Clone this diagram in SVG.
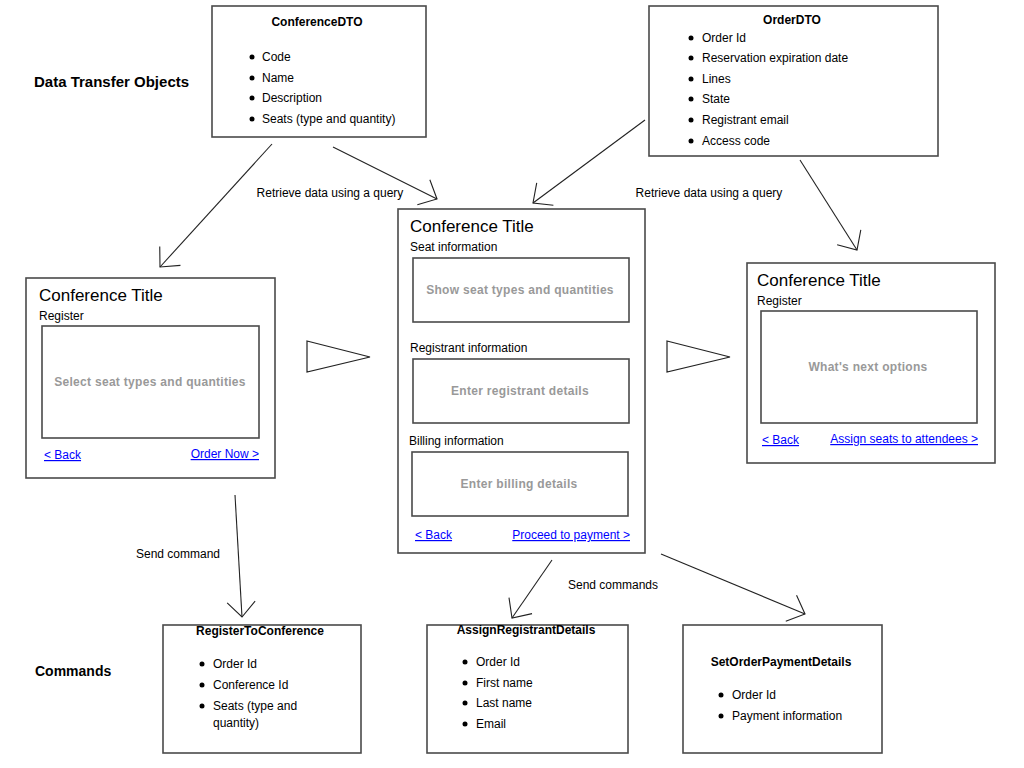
<svg xmlns="http://www.w3.org/2000/svg" width="1024" height="768" viewBox="0 0 1024 768">
<defs>
<style>
.box{fill:#fff;stroke:#4a4a4a;stroke-width:1.6}
.ibox{fill:#fff;stroke:#4a4a4a;stroke-width:1.6}
.t{font-family:"Liberation Sans",Arial,sans-serif;font-size:12px;fill:#000}
.tb{font-family:"Liberation Sans",Arial,sans-serif;font-size:12px;font-weight:bold;fill:#000}
.h{font-family:"Liberation Sans",Arial,sans-serif;font-size:14px;font-weight:bold;fill:#000}
.ct{font-family:"Liberation Sans",Arial,sans-serif;font-size:17px;fill:#000}
.g{font-family:"Liberation Sans",Arial,sans-serif;font-size:12px;font-weight:bold;fill:#999;letter-spacing:0.3px}
.lk{font-family:"Liberation Sans",Arial,sans-serif;font-size:12px;fill:#0000ff;text-decoration:underline}
.bul{fill:#000}
.conn{stroke:#222;stroke-width:1.1;fill:none}
.tri{fill:#fff;stroke:#222;stroke-width:1.2}
</style>
<marker id="ah" markerUnits="userSpaceOnUse" markerWidth="40" markerHeight="40" refX="0" refY="0" viewBox="-20 -20 40 40" orient="auto">
<path d="M-15,-14 L0,0 L-15,14" fill="none" stroke="#222" stroke-width="1.1"/>
</marker>
</defs>
<rect width="1024" height="768" fill="#fff"/>

<text class="h" x="34" y="87" style="font-size:15px">Data Transfer Objects</text>
<text class="h" x="35" y="676">Commands</text>

<g id="conferenceDTO">
<rect class="box" x="212" y="6" width="214" height="131"/>
<text class="tb" x="317" y="26" text-anchor="middle">ConferenceDTO</text>
<circle class="bul" cx="252" cy="57" r="2.5"/><text class="t" x="262" y="61">Code</text>
<circle class="bul" cx="252" cy="78" r="2.5"/><text class="t" x="262" y="82">Name</text>
<circle class="bul" cx="252" cy="98" r="2.5"/><text class="t" x="262" y="102">Description</text>
<circle class="bul" cx="252" cy="119" r="2.5"/><text class="t" x="262" y="123">Seats (type and quantity)</text>
</g>

<g id="orderDTO">
<rect class="box" x="649" y="6" width="289" height="150"/>
<text class="tb" x="792" y="24" text-anchor="middle">OrderDTO</text>
<circle class="bul" cx="691" cy="38" r="2.5"/><text class="t" x="702" y="42">Order Id</text>
<circle class="bul" cx="691" cy="58" r="2.5"/><text class="t" x="702" y="62">Reservation expiration date</text>
<circle class="bul" cx="691" cy="79" r="2.5"/><text class="t" x="702" y="83">Lines</text>
<circle class="bul" cx="691" cy="99" r="2.5"/><text class="t" x="702" y="103">State</text>
<circle class="bul" cx="691" cy="120" r="2.5"/><text class="t" x="702" y="124">Registrant email</text>
<circle class="bul" cx="691" cy="141" r="2.5"/><text class="t" x="702" y="145">Access code</text>
</g>

<g id="screenRegister">
<rect class="box" x="26" y="278" width="249" height="200"/>
<text class="ct" x="39" y="301">Conference Title</text>
<text class="t" x="39" y="320">Register</text>
<rect class="ibox" x="42" y="326" width="217" height="112"/>
<text class="g" x="150" y="386" text-anchor="middle">Select seat types and quantities</text>
<text class="lk" x="44" y="459">&lt; Back</text>
<text class="lk" x="259" y="458" text-anchor="end">Order Now &gt;</text>
</g>

<g id="screenPayment">
<rect class="box" x="398" y="209" width="247" height="344"/>
<text class="ct" x="410" y="232">Conference Title</text>
<text class="t" x="410" y="251">Seat information</text>
<rect class="ibox" x="413" y="258" width="216" height="64"/>
<text class="g" x="520" y="294" text-anchor="middle">Show seat types and quantities</text>
<text class="t" x="410" y="352">Registrant information</text>
<rect class="ibox" x="413" y="359" width="216" height="64"/>
<text class="g" x="520" y="395" text-anchor="middle">Enter registrant details</text>
<text class="t" x="409" y="445">Billing information</text>
<rect class="ibox" x="412" y="452" width="216" height="64"/>
<text class="g" x="519" y="488" text-anchor="middle">Enter billing details</text>
<text class="lk" x="415" y="539">&lt; Back</text>
<text class="lk" x="630" y="539" text-anchor="end">Proceed to payment &gt;</text>
</g>

<g id="screenNext">
<rect class="box" x="747" y="263" width="248" height="200"/>
<text class="ct" x="757" y="286">Conference Title</text>
<text class="t" x="757" y="305">Register</text>
<rect class="ibox" x="761" y="311" width="216" height="112"/>
<text class="g" x="868" y="371" text-anchor="middle">What's next options</text>
<text class="lk" x="762" y="444">&lt; Back</text>
<text class="lk" x="978" y="443" text-anchor="end">Assign seats to attendees &gt;</text>
</g>

<g id="flow1"><polygon class="tri" points="307,341 370,357 307,372"/></g>
<g id="flow2"><polygon class="tri" points="667,341 730,357 667,372"/></g>

<g id="registerToConference">
<rect class="box" x="163" y="625" width="198" height="128"/>
<text class="tb" x="260" y="635" text-anchor="middle">RegisterToConference</text>
<circle class="bul" cx="202" cy="664" r="2.5"/><text class="t" x="213" y="668">Order Id</text>
<circle class="bul" cx="202" cy="685" r="2.5"/><text class="t" x="213" y="689">Conference Id</text>
<circle class="bul" cx="202" cy="706" r="2.5"/><text class="t" x="213" y="710">Seats (type and</text>
<text class="t" x="213" y="727">quantity)</text>
</g>

<g id="assignRegistrantDetails">
<rect class="box" x="427" y="625" width="201" height="128"/>
<text class="tb" x="526" y="634" text-anchor="middle">AssignRegistrantDetails</text>
<circle class="bul" cx="465" cy="662" r="2.5"/><text class="t" x="476" y="666">Order Id</text>
<circle class="bul" cx="465" cy="683" r="2.5"/><text class="t" x="476" y="687">First name</text>
<circle class="bul" cx="465" cy="703" r="2.5"/><text class="t" x="476" y="707">Last name</text>
<circle class="bul" cx="465" cy="724" r="2.5"/><text class="t" x="476" y="728">Email</text>
</g>

<g id="setOrderPaymentDetails">
<rect class="box" x="683" y="625" width="199" height="128"/>
<text class="tb" x="781" y="666" text-anchor="middle">SetOrderPaymentDetails</text>
<circle class="bul" cx="721" cy="695" r="2.5"/><text class="t" x="732" y="699">Order Id</text>
<circle class="bul" cx="721" cy="716" r="2.5"/><text class="t" x="732" y="720">Payment information</text>
</g>

<g id="connectors">
<line class="conn" x1="272" y1="144" x2="160" y2="267" marker-end="url(#ah)"/>
<line class="conn" x1="333" y1="147" x2="437" y2="199" marker-end="url(#ah)"/>
<line class="conn" x1="645" y1="120" x2="533" y2="203" marker-end="url(#ah)"/>
<line class="conn" x1="800" y1="160" x2="857" y2="250" marker-end="url(#ah)"/>
<line class="conn" x1="235" y1="495" x2="242" y2="617" marker-end="url(#ah)"/>
<line class="conn" x1="552" y1="560" x2="512" y2="618" marker-end="url(#ah)"/>
<line class="conn" x1="661" y1="554" x2="805" y2="614" marker-end="url(#ah)"/>
<text class="t" x="330" y="197" text-anchor="middle">Retrieve data using a query</text>
<text class="t" x="709" y="197" text-anchor="middle">Retrieve data using a query</text>
<text class="t" x="178" y="558" text-anchor="middle">Send command</text>
<text class="t" x="613" y="589" text-anchor="middle">Send commands</text>
</g>
</svg>
